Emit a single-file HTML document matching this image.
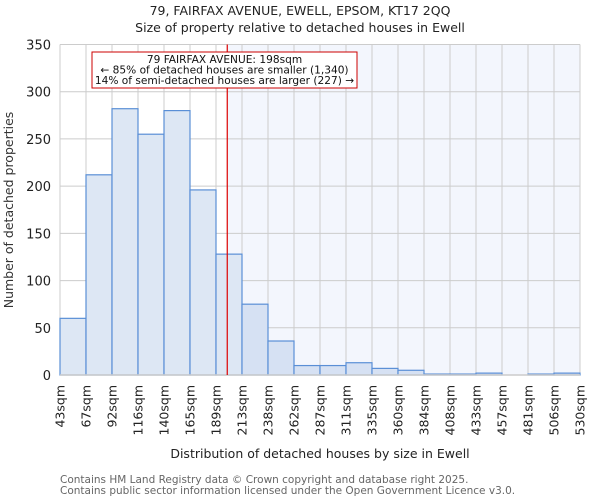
<!DOCTYPE html>
<html><head><meta charset="utf-8"><style>
body{margin:0;background:#fff;font-family:"DejaVu Sans","Liberation Sans",sans-serif;}
svg text{font-family:"DejaVu Sans","Liberation Sans",sans-serif;}
</style></head><body>
<svg id="chart" width="600" height="500" xmlns="http://www.w3.org/2000/svg">
<text x="300" y="15" text-anchor="middle" font-size="12.5" fill="#222">79, FAIRFAX AVENUE, EWELL, EPSOM, KT17 2QQ</text>
<text x="300" y="32" text-anchor="middle" font-size="12.5" fill="#222">Size of property relative to detached houses in Ewell</text>
<g id="grid"></g><g id="bars"></g><g id="axes"></g>
<text transform="translate(13,210) rotate(-90)" text-anchor="middle" font-size="12.5" fill="#333">Number of detached properties</text>
<text x="320" y="458" text-anchor="middle" font-size="12.5" fill="#222">Distribution of detached houses by size in Ewell</text>
<text x="60" y="483" font-size="10.5" fill="#666">Contains HM Land Registry data © Crown copyright and database right 2025.</text>
<text x="60" y="494" font-size="10.5" fill="#666">Contains public sector information licensed under the Open Government Licence v3.0.</text>
</svg>
<script>
const binLabels=["43sqm","67sqm","92sqm","116sqm","140sqm","165sqm","189sqm","213sqm","238sqm","262sqm","287sqm","311sqm","335sqm","360sqm","384sqm","408sqm","433sqm","457sqm","481sqm","506sqm","530sqm"];
const binStarts=[43,67,92,116,140,165,189,213,238,262,287,311,335,360,384,408,433,457,481,506,530];
const counts=[60,212,282,255,280,196,128,75,36,10,10,13,7,5,1,1,2,0,1,2];
const yTicks=[0,50,100,150,200,250,300,350];
const propertySize=198;
const annotationLines=["79 FAIRFAX AVENUE: 198sqm","← 85% of detached houses are smaller (1,340)","14% of semi-detached houses are larger (227) →"];
const NS="http://www.w3.org/2000/svg";
const L=60,R=580,T=44.5,B=375,yMax=350;
const n=counts.length;
const xi=i=>L+(R-L)*i/n;
const y=v=>B-(B-T)*v/yMax;
function xv(v){let i=0;while(i<n-1&&v>binStarts[i+1])i++;return xi(i)+(v-binStarts[i])/(binStarts[i+1]-binStarts[i])*(xi(i+1)-xi(i));}
function mk(tag,attrs,parent){const e=document.createElementNS(NS,tag);for(const k in attrs)e.setAttribute(k,attrs[k]);parent.appendChild(e);return e;}
const grid=document.getElementById('grid'),bars=document.getElementById('bars'),axes=document.getElementById('axes');
const px=xv(propertySize)+1.5;
let hl=mk('rect',{x:px,y:T,width:R-px,height:B-T,fill:'#f3f6fd'},grid);


yTicks.forEach(t=>{
 let g=mk('line',{x1:L,x2:R,y1:y(t),y2:y(t),stroke:'#ccc','stroke-width':1},grid);
 
 
 let tx=mk('text',{x:L-9,y:y(t)+5,'text-anchor':'end','font-size':13,fill:'#222'},axes);
 tx.textContent=t;
 
 
});
for(let i=0;i<=n;i++){
 let g=mk('line',{x1:xi(i),x2:xi(i),y1:T,y2:B,stroke:'#ccc','stroke-width':1},grid);
 
 
 let tx=mk('text',{transform:`translate(${xi(i)+4.5},${385}) rotate(-90)`,'text-anchor':'end','font-size':12.5,fill:'#222'},axes);
 tx.textContent=binLabels[i];
 
 
}
counts.forEach((c,i)=>{
 if(c<=0)return;
 let r=mk('rect',{x:xi(i),y:y(c),width:xi(i+1)-xi(i),height:B-y(c),fill:xi(i)>=px-5?'#d6e1f3':'#dde7f4',stroke:'#5a8fd6','stroke-width':1.2},bars);
 
 
});
let ax=mk('line',{x1:L,x2:R,y1:B,y2:B,stroke:'#ccc','stroke-width':1.5},axes);


let pl=mk('line',{x1:px,x2:px,y1:T,y2:B,stroke:'#d00','stroke-width':1.2},axes);


let box=mk('rect',{x:92,y:52,width:265,height:36,fill:'#fff',stroke:'#c00','stroke-width':1},axes);


annotationLines.forEach((s,k)=>{
 let t=mk('text',{x:224.5,y:63+k*10.5,'text-anchor':'middle','font-size':10.6,fill:'#111'},axes);
 t.textContent=s;
 
 
});
</script>
</body></html>
